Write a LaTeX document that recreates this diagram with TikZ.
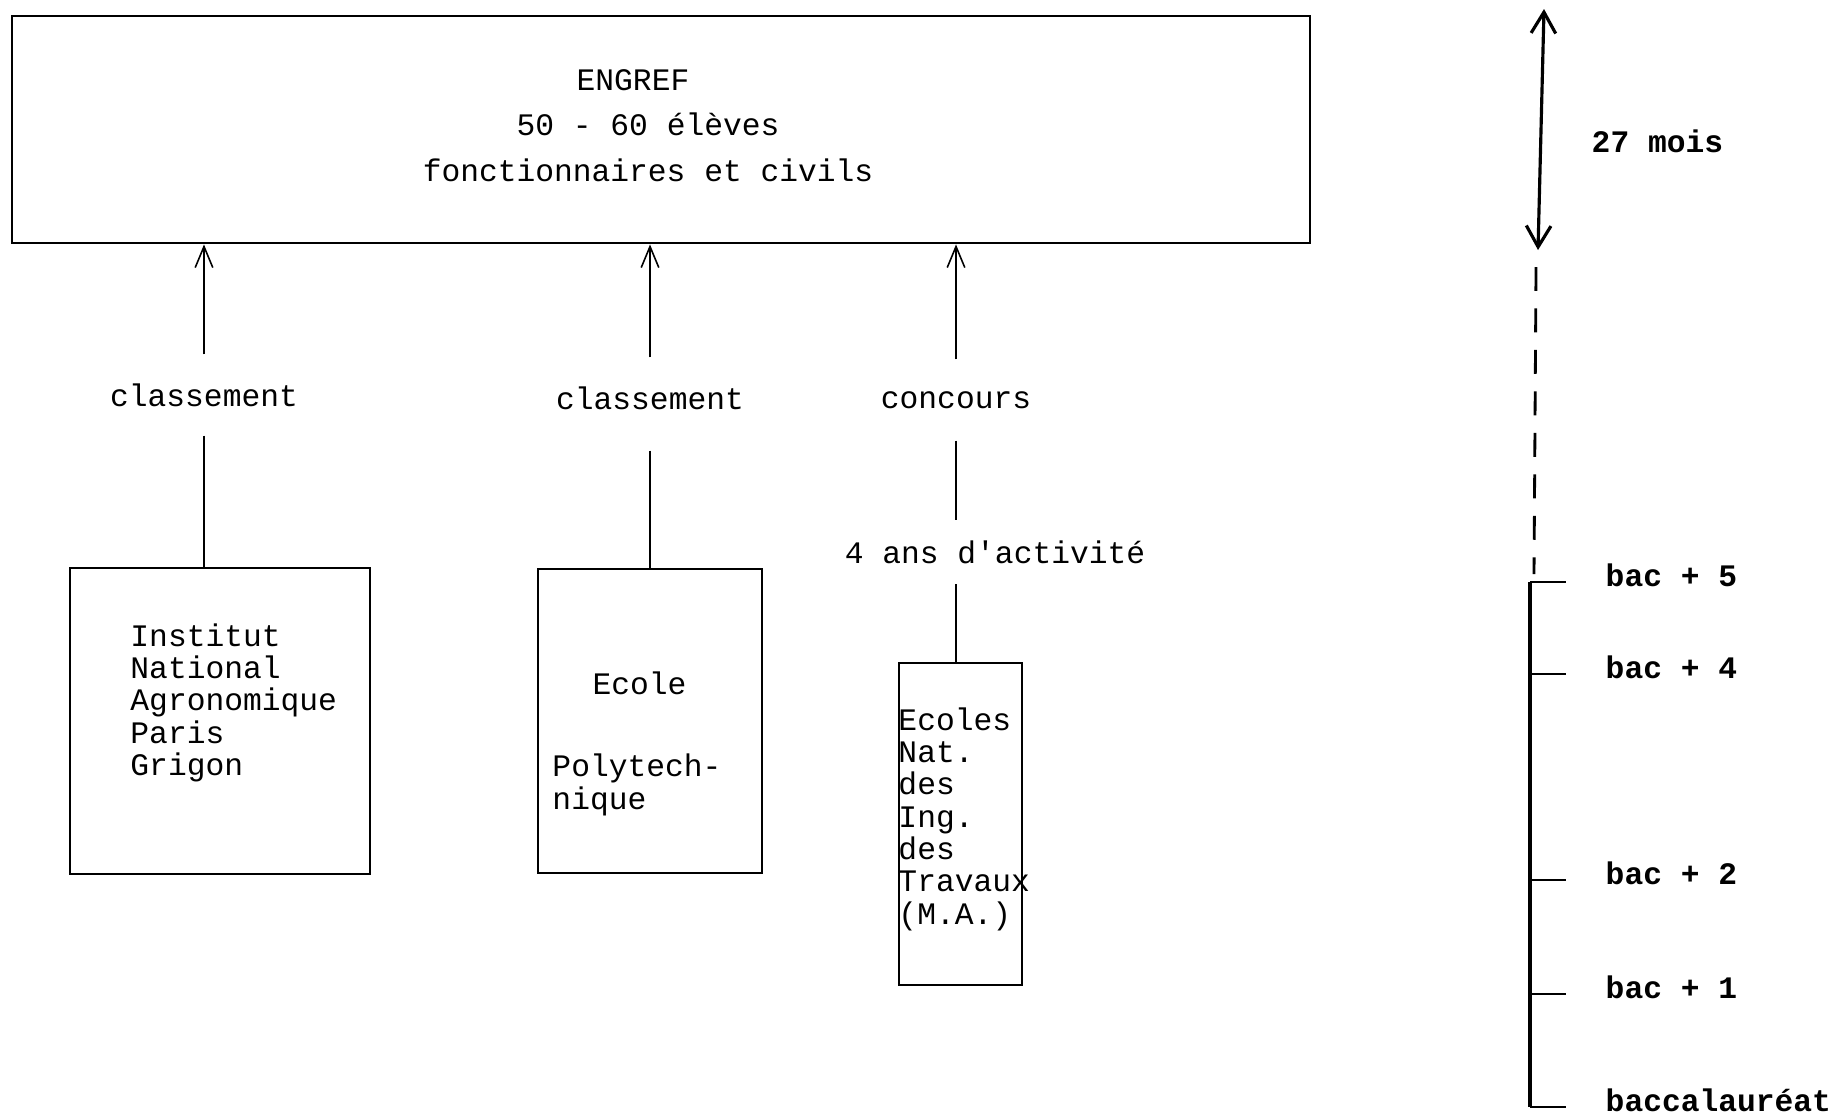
\documentclass[tikz,border=0pt]{standalone}
\usepackage{fontspec}
\setmonofont{Liberation Mono}
\usetikzlibrary{arrows.meta,positioning}

\def\typed{\ttfamily\fontsize{8.9}{9.2}\selectfont}
\def\typedwide{\ttfamily\fontsize{8.9}{12.9}\selectfont}
\def\typedbold{\ttfamily\bfseries\fontsize{8.9}{10}\selectfont}

\tikzset{
  frame/.style={draw, line width=0.7pt, inner sep=0pt},
  txt/.style={font=\typed, inner sep=0pt, align=left},
  lbl/.style={font=\typed, inner sep=0pt, minimum height=0.8cm},
  up/.style={-{Straight Barb[length=6pt,width=5pt]}, line width=0.45pt},
  link/.style={line width=0.45pt},
  scl/.style={font=\typedbold, inner sep=0pt, anchor=west},
}

\begin{document}
\begin{tikzpicture}
    \useasboundingbox (0,0) rectangle (18.37,-11.16);
    % The school at the top
    \node[frame, line width=0.8pt, minimum width=12.98cm, minimum height=2.27cm] (engref) at (6.61,-1.295) {};
    \node[txt, align=center, font=\typedwide] (engreftxt) at (6.48,-1.255)
        {ENGREF\hspace*{0.3cm}\\50 - 60 élèves\\fonctionnaires et civils};
    % The three schools it recruits from
    \node[frame, minimum width=3.00cm, minimum height=3.06cm] (ina) at (2.20,-7.21) {};
    \node[frame, minimum width=2.24cm, minimum height=3.04cm] (ecole) at (6.50,-7.21) {};
    \node[frame, minimum width=1.23cm, minimum height=3.22cm] (enit) at (9.605,-8.24) {};
    \node[txt, anchor=north west] (inatxt) at ([xshift=0.61cm,yshift=-0.56cm]ina.north west)
        {Institut\\National\\Agronomique\\Paris\\Grigon};
    \node[txt] (ecoletxt) at (6.395,-6.83) {Ecole};
    \node[txt, anchor=north west] (polytxt) at ([xshift=0.15cm,yshift=-1.855cm]ecole.north west)
        {Polytech-\\nique};
    \node[txt, anchor=north west] (enittxt) at ([yshift=-0.45cm]enit.north west)
        {Ecoles\\Nat.\\des\\Ing.\\des\\Travaux\\(M.A.)};
    % How one gets in
    \node[lbl] (cl1) at (2.04,-3.95) {classement};
    \node[lbl] (cl2) at (6.50,-3.98) {classement};
    \node[lbl] (cl3) at (9.56,-4.00) {concours};
    \node[lbl, minimum height=0.63cm] (act) at (9.95,-5.52) {4 ans d'activité};
    \draw[up] (cl1.north) -- (cl1.north |- engref.south);
    \draw[up] (cl2.north) -- (cl2.north |- engref.south);
    \draw[up] (cl3.north) -- (cl3.north |- engref.south);
    \draw[link] (cl1.south) -- (ina.north -| cl1);
    \draw[link, shorten <=0.12cm] (cl2.south) -- (ecole.north -| cl2);
    \draw[link] (cl3.south) -- (cl3.south |- act.north);
    \draw[link] (act.south -| cl3) -- (enit.north -| cl3);
    % Length of the course, then the years after the bac
    \coordinate (durtop) at (15.44,-0.09);
    \coordinate (durbot) at (15.38,-2.50);
    \draw[{Straight Barb[length=6pt,width=7pt]}-{Straight Barb[length=6pt,width=7pt]}, line width=0.9pt]
        (durtop) -- (durbot);
    \node[scl] (mois) at (15.91,-1.41) {27 mois};
    \draw[line width=0.8pt, dash pattern=on 6.8pt off 5pt] (15.36,-2.67) -- (15.34,-5.74);
    \draw[line width=0.9pt] (15.30,-5.82) -- (15.30,-11.07);
    \foreach \y/\t [count=\i] in {5.82/bac + 5, 6.74/bac + 4, 8.80/bac + 2, 9.94/bac + 1, 11.07/baccalauréat}{
        \coordinate (tick\i) at (15.30,-\y);
        \draw[line width=0.8pt] (tick\i) -- ++(0.36,0);
        \node[scl] (bac\i) at (16.05,{-\y+0.07}) {\t};
    }
\end{tikzpicture}
\end{document}
